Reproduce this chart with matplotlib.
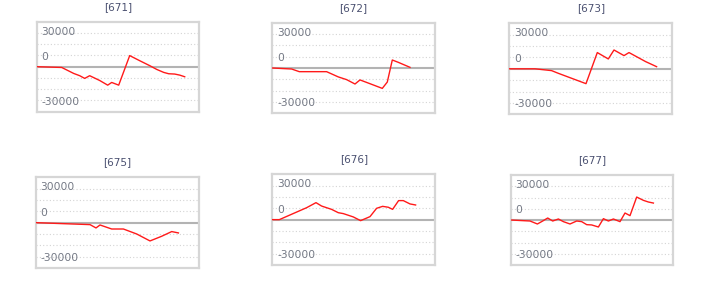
import matplotlib
matplotlib.use("Agg")
import matplotlib.pyplot as plt

titles = ["[671]", "[672]", "[673]", "[675]", "[676]", "[677]"]

x_671 = [0, 25, 37, 43, 48, 53, 63, 71, 75, 82, 93, 103, 113, 120, 127, 132, 138, 143, 148]
y_671 = [0, -500, -4500, -6000, -7800, -6000, -9200, -12300, -10500, -12300, 7400, 4000, 700,
         -1800, -3800, -4700, -4900, -5600, -6700]

x_672 = [0, 19.3, 27, 54.3, 66, 74.3, 82.7, 87.7, 97.7, 110, 115, 120, 126, 137.7]
y_672 = [0, -660, -2430, -2430, -5900, -7700, -10600, -7900, -10400, -13500, -9300, 5300, 3750, 440]

x_673 = [0, 25.7, 42.3, 49, 76.7, 88, 99, 104.7, 114.7, 119.7, 136.3, 147.3]
y_673 = [0, 0, -1200, -2970, -9800, 10700, 6500, 12400, 8700, 10700, 4750, 1400]

x_675 = [0, 54.3, 60.3, 64.3, 76, 87.7, 101, 114.3, 126, 136, 142.7]
y_675 = [0, -1300, -3500, -1540, -4200, -4200, -7500, -12100, -9000, -5900, -6800]

x_676 = [0, 7, 17.7, 34.3, 43.7, 49.3, 59.3, 66, 71, 81, 88.3, 97.7, 104.3, 110.3, 116, 120.3,
         126.3, 131, 137.7, 143.3]
y_676 = [0, 0, 3100, 7900, 11250, 9000, 6800, 4600, 4000, 1800, -660, 2000, 7500, 8800, 8200,
         6800, 12600, 12600, 10400, 9700]

x_677 = [0, 19.3, 26.7, 32, 37, 42, 47.7, 52.7, 59.3, 66, 71, 76, 81, 87.7, 92.7, 97.7, 102.7,
         109.3, 114.3, 119.3, 126, 132.7, 137.7, 142.7]
y_677 = [0, -670, -2660, -670, 1330, -670, 670, -1100, -2660, -670, -1100, -3100, -3300, -4660,
         890, -670, 670, -1100, 4660, 2900, 15300, 13100, 12000, 11300]

xs = [x_671, x_672, x_673, x_675, x_676, x_677]
ys = [y_671, y_672, y_673, y_675, y_676, y_677]

tick_values = [30000, 0, -30000]
tick_labels = ["30000", "0", "-30000"]
grid_values = [-22500, -15000, -7500, 7500, 15000, 22500]

W, H = 709, 306
# left, right, top, bottom in pixels
boxes = [
    (36.7, 199.0, 21.7, 111.7),
    (272.3, 435.0, 22.7, 113.3),
    (509.3, 672.3, 23.3, 114.3),
    (35.7, 198.7, 177.3, 268.0),
    (272.3, 435.3, 174.3, 265.0),
    (510.7, 673.3, 175.0, 265.0),
]

fig = plt.figure(figsize=(W / 100, H / 100), dpi=100)
fig.patch.set_facecolor("white")

for i, (l, r, t, b) in enumerate(boxes):
    ax = fig.add_axes([l / W, 1 - b / H, (r - l) / W, (b - t) / H])
    ax.set_xlim(0, r - l)
    ax.set_ylim(-30000, 30000)
    for g in grid_values:
        ax.axhline(g, color="#d4d4d4", lw=0.8, ls=(0, (1, 2)), zorder=1)
    ax.axhline(0, color="#b3b3b3", lw=1.5, zorder=2)
    ax.plot(xs[i], ys[i], color="#ff1a1a", lw=1.0, zorder=3)
    for v, lab in zip(tick_values, tick_labels):
        dy = -10 if v == 30000 else 10
        ax.annotate(lab, xy=(0, v), xytext=(3.6, dy * 0.72), textcoords="offset points",
                    ha="left", va="center", fontsize=7.7, color="#737884")
    for s in ax.spines.values():
        s.set_color("#d6d6d6")
        s.set_linewidth(1.6)
    ax.set_xticks([])
    ax.set_yticks([])
    ax.text(0.5, 1 + 10 / (b - t), titles[i], transform=ax.transAxes, ha="center",
            va="bottom", fontsize=7.5, color="#4a5070")

fig.savefig("out.png", dpi=100, facecolor="white")
